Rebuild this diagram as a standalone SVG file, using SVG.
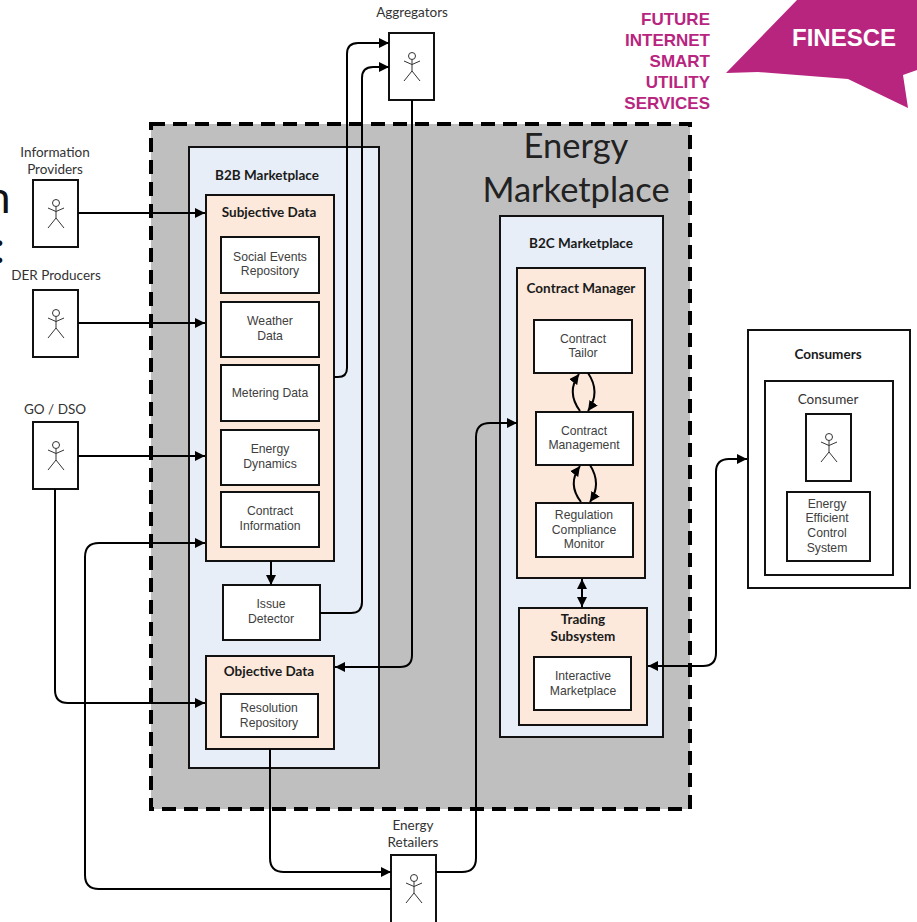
<svg xmlns="http://www.w3.org/2000/svg" width="917" height="922" viewBox="0 0 917 922">
<style>
.cal{font-family:"Lato","Noto Sans",sans-serif;fill:#333;text-anchor:middle;font-size:13.500px}
.ar{font-family:"Liberation Sans",Arial,sans-serif;font-size:12.200px;fill:#404040;text-anchor:middle}
.h{font-family:"Lato","Noto Sans",sans-serif;font-size:13.500px;font-weight:700;fill:#1a1a1a;text-anchor:middle}
.big{font-family:"Lato","Noto Sans",sans-serif;font-size:34.500px;fill:#222;text-anchor:middle}
.box{fill:#fff;stroke:#111;stroke-width:2}
.org{fill:#fce9db;stroke:#111;stroke-width:2}
.blue{fill:#e8eef7;stroke:#111;stroke-width:2}
.c{fill:none;stroke:#000;stroke-width:2;marker-end:url(#a)}
.c2{fill:none;stroke:#000;stroke-width:2;marker-start:url(#s);marker-end:url(#a)}
.c3{fill:none;stroke:#000;stroke-width:2;marker-start:url(#s)}
.p{fill:none;stroke:#333;stroke-width:1}
.pk{font-family:"Liberation Sans",Arial,sans-serif;font-size:17px;font-weight:700;fill:#b8257f;text-anchor:end}
</style>
<defs>
<marker id="a" markerUnits="userSpaceOnUse" markerWidth="11" markerHeight="12" refX="10" refY="6" orient="auto"><path d="M0 1L10 6L0 11Z" fill="#000"/></marker>
<marker id="s" markerUnits="userSpaceOnUse" markerWidth="11" markerHeight="12" refX="1" refY="6" orient="auto"><path d="M11 1L1 6L11 11Z" fill="#000"/></marker>
<g id="stick"><circle cx="0" cy="-11" r="3.500" class="p"/><path class="p" d="M0 -7.500V4M-8 -6L0 -2.500L8 -6M-8 14L0 4L8 14"/></g>
</defs>
<text x="-14" y="213" font-family="Lato,sans-serif" font-size="44" fill="#111">n</text>
<text x="-6" y="263" font-family="Lato,sans-serif" font-size="44" fill="#111">:</text>
<g id="logo"><path d="M797 0L726 73L758 72L848 79L908 108L903 75L917 70L917 0Z" fill="#b8257f"/>
<text x="844" y="46" font-family="Liberation Sans,Arial,sans-serif" font-size="24" font-weight="700" fill="#fff" text-anchor="middle">FINESCE</text>
<text class="pk" x="710" y="25">FUTURE</text><text class="pk" x="710" y="46">INTERNET</text><text class="pk" x="710" y="67">SMART</text><text class="pk" x="710" y="88">UTILITY</text><text class="pk" x="710" y="109">SERVICES</text></g>
<g id="energy-marketplace"><rect x="151" y="124" width="539" height="685" fill="#bfbfbf" stroke="#000" stroke-width="4" stroke-dasharray="14 8"/>
<text class="big" x="576" y="158">Energy</text><text class="big" x="576" y="202">Marketplace</text></g>
<g id="b2b"><rect class="blue" x="189" y="147" width="190" height="621"/><text class="h" x="267" y="180">B2B Marketplace</text></g>
<g id="b2c"><rect class="blue" x="500" y="216" width="163" height="521"/><text class="h" x="581" y="248">B2C Marketplace</text></g>
<g id="subjective"><rect class="org" x="206" y="195" width="128" height="366"/><text class="h" x="269" y="217">Subjective Data</text></g>
<g id="social"><rect class="box" x="221" y="237" width="98" height="56"/><text class="ar" x="270" y="261">Social Events</text><text class="ar" x="270" y="275">Repository</text></g>
<g id="weather"><rect class="box" x="221" y="302" width="98" height="55"/><text class="ar" x="270" y="325">Weather</text><text class="ar" x="270" y="340">Data</text></g>
<g id="metering"><rect class="box" x="221" y="365" width="98" height="56"/><text class="ar" x="270" y="397">Metering Data</text></g>
<g id="dynamics"><rect class="box" x="221" y="430" width="98" height="55"/><text class="ar" x="270" y="453">Energy</text><text class="ar" x="270" y="468">Dynamics</text></g>
<g id="contract-info"><rect class="box" x="221" y="492" width="98" height="55"/><text class="ar" x="270" y="515">Contract</text><text class="ar" x="270" y="530">Information</text></g>
<g id="issue"><rect class="box" x="223" y="585" width="97" height="55"/><text class="ar" x="271" y="608">Issue</text><text class="ar" x="271" y="623">Detector</text></g>
<g id="objective"><rect class="org" x="206" y="656" width="128" height="93"/><text class="h" x="269" y="676">Objective Data</text></g>
<g id="resolution"><rect class="box" x="221" y="694" width="97" height="43"/><text class="ar" x="269" y="712">Resolution</text><text class="ar" x="269" y="727">Repository</text></g>
<g id="contract-manager"><rect class="org" x="517" y="268" width="128" height="310"/><text class="h" x="581" y="293">Contract Manager</text></g>
<g id="tailor"><rect class="box" x="534" y="320" width="98" height="53"/><text class="ar" x="583" y="343">Contract</text><text class="ar" x="583" y="357">Tailor</text></g>
<g id="management"><rect class="box" x="536" y="412" width="97" height="53"/><text class="ar" x="584" y="435">Contract</text><text class="ar" x="584" y="449">Management</text></g>
<g id="regulation"><rect class="box" x="536" y="503" width="97" height="54"/><text class="ar" x="584" y="519">Regulation</text><text class="ar" x="584" y="534">Compliance</text><text class="ar" x="584" y="548">Monitor</text></g>
<g id="trading"><rect class="org" x="519" y="608" width="128" height="117"/><text class="h" x="583" y="624">Trading</text><text class="h" x="583" y="641">Subsystem</text></g>
<g id="interactive"><rect class="box" x="534" y="657" width="97" height="53"/><text class="ar" x="583" y="680">Interactive</text><text class="ar" x="583" y="695">Marketplace</text></g>
<g id="consumers"><rect class="box" x="748" y="330" width="162" height="258"/><text class="h" x="828" y="359">Consumers</text></g>
<g id="consumer"><rect class="box" x="765" y="381" width="128" height="194"/><text class="cal" x="828" y="404">Consumer</text>
<rect class="box" x="806" y="414" width="45" height="67"/><use href="#stick" x="829" y="448"/></g>
<g id="eecs"><rect class="box" x="787" y="492" width="83" height="69"/><text class="ar" x="827" y="508">Energy</text><text class="ar" x="827" y="522">Efficient</text><text class="ar" x="827" y="537">Control</text><text class="ar" x="827" y="552">System</text></g>
<g id="aggregators"><rect class="box" x="389" y="33" width="45" height="67"/><use href="#stick" x="412" y="67"/><text class="cal" x="412" y="17">Aggregators</text></g>
<g id="info-providers"><rect class="box" x="33" y="180" width="45" height="67"/><use href="#stick" x="56" y="214"/><text class="cal" x="55" y="157">Information</text><text class="cal" x="55" y="174">Providers</text></g>
<g id="der"><rect class="box" x="33" y="290" width="45" height="67"/><use href="#stick" x="56" y="324"/><text class="cal" x="56" y="280">DER Producers</text></g>
<g id="go-dso"><rect class="box" x="33" y="422" width="45" height="67"/><use href="#stick" x="56" y="456"/><text class="cal" x="55" y="414">GO / DSO</text></g>
<g id="retailers"><rect class="box" x="391" y="855" width="45" height="75"/><use href="#stick" x="414" y="889"/><text class="cal" x="413" y="830">Energy</text><text class="cal" x="413" y="847">Retailers</text></g>
<g id="connectors">
<path class="c" d="M78 213H205"/>
<path class="c" d="M78 323H205"/>
<path class="c" d="M78 456H205"/>
<path class="c" d="M334 377H338Q347 377 347 368V54Q347 43 358 43H389"/>
<path class="c" d="M320 613H351Q362 613 362 602V78Q362 67 373 67H389"/>
<path class="c" d="M271 561V585"/>
<path class="c3" d="M335 667H400Q412 667 412 655V100"/>
<path class="c" d="M55 489V690Q55 703 68 703H205"/>
<path class="c" d="M391 889H99Q85 889 85 875V557Q85 543 99 543H205"/>
<path class="c" d="M270 749V858Q270 872 284 872H391"/>
<path class="c" d="M436 872H462Q476 872 476 858V437Q476 423 490 423H517"/>
<path class="c2" d="M648 666H703Q716 666 716 653V472Q716 459 729 459H747"/>
<path class="c2" d="M582 579V607"/>
<path class="c" d="M580 411Q566 392 579 374"/>
<path class="c" d="M588 373Q601 392 588 411"/>
<path class="c" d="M581 502Q567 484 580 466"/>
<path class="c" d="M590 465Q602 484 590 502"/>
</g>
</svg>
